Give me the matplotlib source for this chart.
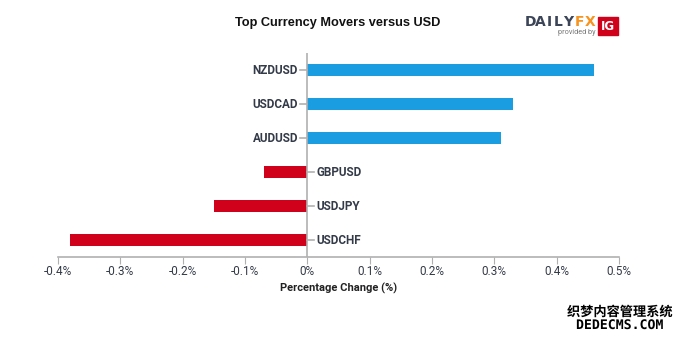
import matplotlib
matplotlib.use("Agg")
import matplotlib.pyplot as plt
import matplotlib.patheffects as pe
from matplotlib.patches import Rectangle

# data
pairs = ["NZDUSD", "USDCAD", "AUDUSD", "GBPUSD", "USDJPY", "USDCHF"]
changes = [0.46, 0.33, 0.31, -0.07, -0.15, -0.38]
xticks = [-0.4, -0.3, -0.2, -0.1, 0.0, 0.1, 0.2, 0.3, 0.4, 0.5]
xtick_labels = ["-0.4%", "-0.3%", "-0.2%", "-0.1%", "0%", "0.1%", "0.2%", "0.3%", "0.4%", "0.5%"]

blue = "#1b9de2"
red = "#d0021b"
txt = "#333a48"
grey = "#b0b0b0"

fig = plt.figure(figsize=(6.8, 3.4), dpi=100)
ax = fig.add_axes([58/680, 1-257/340, (619-58)/680, 204/340])

ypos = list(range(len(pairs)))
colors = [blue if v > 0 else red for v in changes]
ax.barh(ypos, changes, height=0.36, color=colors, edgecolor="none")
ax.set_xlim(-0.4, 0.5)
ax.set_ylim(len(pairs)-0.5, -0.5)

# zero axis + bottom axis
ax.axvline(0, color=grey, lw=1.2, zorder=3)
for s in ["top", "right", "left"]:
    ax.spines[s].set_visible(False)
ax.spines["bottom"].set_color(grey)
ax.spines["bottom"].set_linewidth(1.2)
ax.set_yticks([])
ax.set_xticks(xticks)
ax.set_xticklabels(xtick_labels, fontsize=8.5, color=txt, family="Roboto")
ax.tick_params(axis="x", length=5, color=grey, pad=1)

# labels sit on the opposite side of zero, with little tick marks
for y, name, v in zip(ypos, pairs, changes):
    if v > 0:
        ax.plot([-0.011, 0], [y, y], color=grey, lw=1.2, clip_on=False, zorder=3)
        ax.text(-0.015, y, name, ha="right", va="center", fontsize=8.5,
                fontweight="bold", color=txt, family="Roboto")
    else:
        ax.plot([0, 0.011], [y, y], color=grey, lw=1.2, clip_on=False, zorder=3)
        ax.text(0.015, y, name, ha="left", va="center", fontsize=8.5,
                fontweight="bold", color=txt, family="Roboto")

ax.set_xlabel("Percentage Change (%)", fontsize=8, fontweight="bold",
              color="#222222", family="Roboto", labelpad=3)

fig.text(338/680, 1-23/340, "Top Currency Movers versus USD", ha="center", va="center",
         fontsize=9.2, fontweight="bold", color="#111111", family="Liberation Sans")

# DailyFX logo, letter by letter
logo = [("D", 530.5, "#3c4557"), ("A", 540.5, "#3c4557"), ("I", 549, "#3c4557"),
        ("L", 558, "#3c4557"), ("Y", 568.5, "#3c4557"),
        ("F", 579, "#f7931e"), ("X", 590, "#f7931e")]
for ch, lx, col in logo:
    fig.text(lx/680, 1-22/340, ch, ha="center", va="center", fontsize=10,
             fontweight="bold", color=col, family="DejaVu Sans")
fig.text(577/680, 1-32.5/340, "provided by", ha="center", va="center", fontsize=5.2,
         color="#777777", family="Roboto")
fig.patches.append(Rectangle((598/680, 1-35/340), 20/680, 18/340,
                             transform=fig.transFigure, color="#d0021b"))
fig.text(608/680, 1-26.5/340, "IG", ha="center", va="center", fontsize=8.5,
         fontweight="bold", color="white", family="DejaVu Sans")

# site watermark
wm = [pe.withStroke(linewidth=2, foreground="white")]
fig.text(620/680, 1-312/340, "织梦内容管理系统", ha="center", va="center", fontsize=9.5,
         fontweight="bold", color="black", family=["Noto Sans CJK SC", "DejaVu Sans"],
         path_effects=wm)
fig.text(620/680, 1-325.5/340, "DEDECMS.COM", ha="center", va="center", fontsize=9.5,
         fontweight="bold", color="black", family="DejaVu Sans Mono", path_effects=wm)

fig.savefig("out.png", dpi=100)
